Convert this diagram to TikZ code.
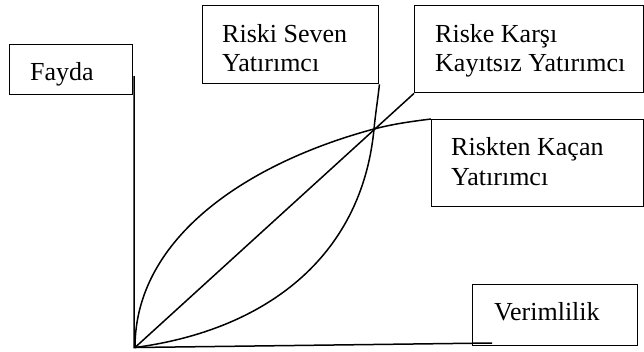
\documentclass[tikz,border=0pt]{standalone}
\usepackage{fontspec}
\setmainfont{Liberation Serif}
\begin{document}
\begin{tikzpicture}[x=1pt,y=-1pt,
  box/.style={draw,line width=1.4pt,inner sep=0pt,anchor=north west},
  lbl/.style={inner sep=0pt,anchor=base west,font=\fontsize{26}{29.5}\selectfont},
  curve/.style={line width=1.5pt}]
\useasboundingbox (0,0) rectangle (644,351);
% boxes
\node[box,minimum width=123pt,minimum height=50pt] (fy) at (9,44) {};
\node[box,minimum width=176pt,minimum height=78pt] (rs) at (202,5) {};
\node[box,minimum width=229pt,minimum height=87pt] (rk) at (414,5) {};
\node[box,minimum width=212pt,minimum height=87pt] (rc) at (431,119) {};
\node[box,minimum width=165pt,minimum height=61pt] (vm) at (472,284) {};
% texts
\node[lbl] (fyt) at (30,80) {Fayda};
\node[lbl] (rst1) at (222,42) {Riski Seven};
\node[lbl] (rst2) at (222,71) {Yatırımcı};
\node[lbl] (rkt1) at (435,42) {Riske Karşı};
\node[lbl] (rkt2) at (435,71) {Kayıtsız Yatırımcı};
\node[lbl] (rct1) at (451,155) {Riskten Kaçan};
\node[lbl] (rct2) at (451,185) {Yatırımcı};
\node[lbl] (vmt) at (494,320) {Verimlilik};
% points
\coordinate (O) at (135,347.5);
\coordinate (ytop) at (134,76);
\coordinate (xend) at (492,343);
\coordinate (P) at (374,129);
% axes
\draw[curve] (ytop) -- (134,347.5) -- (O) -- (xend);
% diagonal (risk neutral)
\draw[curve] (O) -- (rk.south west);
% concave (risk averse)
\draw[curve] (O) .. controls (135,237) and (248.4,162.7) .. (P)
  .. controls (393,124) and (411,121.5) .. (rc.north west);
% convex (risk loving)
\draw[curve] (O) .. controls (264,330.4) and (361.6,258.4) .. (P)
  .. controls (375.4,114) and (378,98) .. (rs.south east);
\end{tikzpicture}
\end{document}
